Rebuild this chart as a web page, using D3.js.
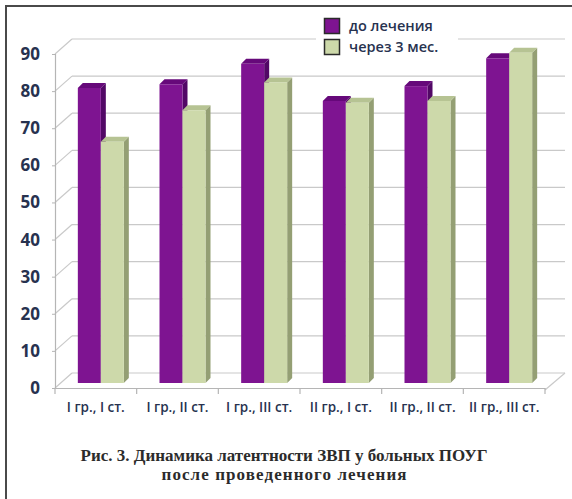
<!DOCTYPE html>
<html>
<head>
<meta charset="utf-8">
<script src="https://cdn.jsdelivr.net/npm/d3@7"></script>
<style>
  html, body { margin: 0; padding: 0; background: #fff; }
  svg { display: block; }
</style>
</head>
<body>
<svg id="chart" width="572" height="499"></svg>
<script>
// Patient groups and glaucoma stages
const categories = ["I гр., I ст.", "I гр., II ст.", "I гр., III ст.", "II гр., I ст.", "II гр., II ст.", "II гр., III ст."];
const seriesNames = ["до лечения", "через 3 мес."];
// Latency values before treatment and 3 months later
const beforeValues = [79.5, 80.5, 86, 76, 80, 87.5];
const afterValues = [65, 73.5, 81, 75.5, 76, 89];
const yTicks = [0, 10, 20, 30, 40, 50, 60, 70, 80, 90];
const captionLines = ["Рис. 3. Динамика латентности ЗВП у больных ПОУГ", "после проведенного лечения"];

const seriesValues = [beforeValues, afterValues];
const faceColors = [
  { front: "#7e1491", top: "#66097a", side: "#520866" },
  { front: "#cdd9aa", top: "#b6c393", side: "#949f74" }
];

const svg = d3.select("#chart");

// frame around the figure
svg.append("rect").attr("x", 6).attr("y", 6).attr("width", 580).attr("height", 510)
  .attr("fill", "none").attr("stroke", "#4a4a4a").attr("stroke-width", 2);

// front plane of the 3D box
const x = d3.scaleBand().domain(categories).range([55, 545]);
const y = d3.scaleLinear().domain([0, 90]).range([388, 54]);
// depth offsets: back wall and bar planes
const wallDx = 17, wallDy = -15;
const barDx = 5, barDy = -5;       // bar front plane
const depthDx = 5, depthDy = -5;   // bar thickness
const barW = 23;

const grid = svg.append("g");
// back wall gridlines
grid.selectAll("line.back").data(yTicks).join("line")
  .attr("x1", x.range()[0] + wallDx).attr("x2", x.range()[1] + wallDx + 3)
  .attr("y1", d => y(d) + wallDy).attr("y2", d => y(d) + wallDy)
  .attr("stroke", "#c9c9c9").attr("stroke-width", 1.2);
// side wall diagonals
grid.selectAll("line.side").data(yTicks).join("line")
  .attr("x1", x.range()[0]).attr("y1", d => y(d))
  .attr("x2", x.range()[0] + wallDx).attr("y2", d => y(d) + wallDy)
  .attr("stroke", "#c9c9c9").attr("stroke-width", 1.2);
// floor right edge
grid.append("line")
  .attr("x1", x.range()[1]).attr("y1", y(0) + 2)
  .attr("x2", x.range()[1] + wallDx + 3).attr("y2", y(0) + wallDy)
  .attr("stroke", "#c9c9c9").attr("stroke-width", 1.2);

// value axis
const yAxis = d3.axisLeft(y).tickValues(yTicks).tickSize(3).tickPadding(12);
const yg = svg.append("g").attr("transform", `translate(${x.range()[0]},0)`).call(yAxis);
yg.select(".domain").attr("stroke", "#b5b5b5").attr("stroke-width", 1.2);
yg.selectAll(".tick line").attr("stroke", "#b5b5b5");
yg.selectAll(".tick text")
  .attr("font-family", "'Open Sans', sans-serif").attr("font-size", 17).attr("font-weight", 700)
  .attr("fill", "#27324f");

// category axis
const xAxis = d3.axisBottom(x).tickSize(0).tickPadding(14).tickSizeOuter(0);
const xg = svg.append("g").attr("transform", `translate(0,${y(0)})`).call(xAxis);
xg.select(".domain").attr("stroke", "#b5b5b5").attr("stroke-width", 1.2);
xg.selectAll(".tick text")
  .attr("font-family", "'Open Sans', sans-serif").attr("font-size", 13.5).attr("font-weight", 600)
  .attr("fill", "#27324f");
// category boundary ticks
xg.selectAll("line.sep").data(d3.range(categories.length + 1)).join("line")
  .attr("x1", i => x.range()[0] + i * x.bandwidth()).attr("x2", i => x.range()[0] + i * x.bandwidth())
  .attr("y1", 0).attr("y2", 6).attr("stroke", "#b5b5b5").attr("stroke-width", 1.2);

// 3D columns
const inner = d3.scaleBand().domain(seriesNames)
  .range([x.bandwidth() / 2 - barW, x.bandwidth() / 2 + barW]);

const bars = svg.append("g");
categories.forEach((c, ci) => {
  seriesNames.forEach((s, si) => {
    const v = seriesValues[si][ci];
    const x0 = x(c) + inner(s) + barDx;
    const x1 = x0 + inner.bandwidth();
    const yTop = y(v) + barDy;
    const yBase = y(0) + barDy;
    const col = faceColors[si];
    const g = bars.append("g");
    // right side
    g.append("path")
      .attr("d", `M${x1},${yTop}L${x1 + depthDx},${yTop + depthDy}L${x1 + depthDx},${yBase + depthDy}L${x1},${yBase}Z`)
      .attr("fill", col.side);
    // top
    g.append("path")
      .attr("d", `M${x0},${yTop}L${x0 + depthDx},${yTop + depthDy}L${x1 + depthDx},${yTop + depthDy}L${x1},${yTop}Z`)
      .attr("fill", col.top);
    // front
    g.append("rect").attr("x", x0).attr("y", yTop)
      .attr("width", inner.bandwidth()).attr("height", yBase - yTop)
      .attr("fill", col.front);
  });
});

// legend
const legend = svg.append("g");
legend.append("rect").attr("x", 316).attr("y", 12).attr("width", 142).attr("height", 50).attr("fill", "#fff");
seriesNames.forEach((s, i) => {
  const ly = 18 + i * 21;
  legend.append("rect").attr("x", 324.5).attr("y", ly + 0.5).attr("width", 15).attr("height", 15)
    .attr("fill", faceColors[i].front).attr("stroke", "#2a2a2a").attr("stroke-width", 1.5);
  legend.append("text").attr("x", 349).attr("y", ly + 13).text(s)
    .attr("font-family", "'Open Sans', sans-serif").attr("font-size", 14.5).attr("font-weight", 600)
    .attr("fill", "#27324f");
});

// caption
const captionWidths = [407, 245];
svg.append("g").selectAll("text").data(captionLines).join("text")
  .attr("x", 284).attr("y", (d, i) => 461 + i * 19)
  .attr("text-anchor", "middle")
  .attr("font-family", "'Liberation Serif', serif").attr("font-size", 17).attr("font-weight", 700)
  .attr("fill", "#2b2b2b")
  .attr("textLength", (d, i) => captionWidths[i]).attr("lengthAdjust", "spacing")
  .text(d => d);
</script>
</body>
</html>
